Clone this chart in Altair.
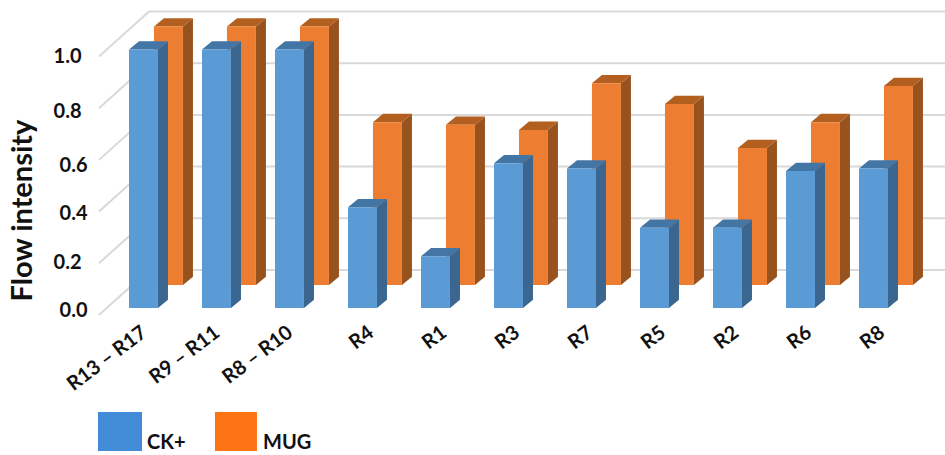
import json
import altair as alt
import pandas as pd

# Series values and labels
categories = ["R13 – R17", "R9 – R11", "R8 – R10", "R4", "R1", "R3", "R7", "R5", "R2", "R6", "R8"]
ck_plus = [1.0, 1.0, 1.0, 0.39, 0.20, 0.56, 0.54, 0.31, 0.31, 0.53, 0.54]
mug = [1.0, 1.0, 1.0, 0.63, 0.62, 0.60, 0.78, 0.70, 0.53, 0.63, 0.77]
y_ticks = [0.0, 0.2, 0.4, 0.6, 0.8, 1.0]

# Pseudo-3D geometry, in axis units (one x unit = one category slot)
X_DOMAIN = [-1.767, 11.178]
Y_DOMAIN = [-0.5687, 1.1915]
BAR_W = 0.397
SIDE_DX, SIDE_DY = 0.137, 0.032
BACK_DX, BACK_DY = 0.342, 0.089
FLOOR_X, FLOOR_Y = -0.411, -0.027
WALL_X, WALL_Y = 0.274, 0.147

x_scale = alt.Scale(domain=X_DOMAIN, nice=False, zero=False)
y_scale = alt.Scale(domain=Y_DOMAIN, nice=False, zero=False)
FONT = "Lato"
INK = "#111111"

# Axes carry only labels; each label gets its own small nudge
y_offset_cond = [
    {"test": "datum.value === 1", "value": 7},
    {"test": "abs(datum.value - 0.8) < 0.01", "value": 10.5},
    {"test": "abs(datum.value - 0.6) < 0.01", "value": 13},
    {"test": "abs(datum.value - 0.4) < 0.01", "value": 8.5},
    {"test": "abs(datum.value - 0.2) < 0.01", "value": 6.5},
]
y_padding_cond = [
    {"test": "datum.value === 1", "value": 6},
    {"test": "abs(datum.value - 0.8) < 0.01", "value": 6},
    {"test": "abs(datum.value - 0.2) < 0.01", "value": 6},
]
axis_y = alt.Axis(
    values=y_ticks, format=".1f", offset=-87, grid=False, domain=False, ticks=False,
    labelFont=FONT, labelFontSize=20, labelFontWeight="bold", labelColor=INK,
    labelOffset={"condition": y_offset_cond, "value": 3},
    labelPadding={"condition": y_padding_cond, "value": 0},
    labelOverlap=False, labelBound=False, labelFlush=False,
    title="Flow intensity", titleFont=FONT, titleFontSize=29, titleFontWeight="bold",
    titleColor=INK, titleX=-50, titleY=210, titleAlign="center",
)
label_expr = "[" + ",".join(json.dumps(c, ensure_ascii=False) for c in categories) + "][datum.value]"
axis_x = alt.Axis(
    values=list(range(len(categories))), labelExpr=label_expr, offset=-125, grid=False,
    domain=False, ticks=False, labelFont=FONT, labelFontSize=20, labelFontWeight="bold",
    labelColor=INK, labelAngle=-37, labelAlign="right", labelBaseline="middle",
    labelPadding=0, labelOffset={"condition": {"test": "datum.value < 3", "value": 15}, "value": 23},
    labelOverlap=False, labelBound=False, labelFlush=False, title=None,
)


def x_enc(field="x"):
    return alt.X(f"{field}:Q", scale=x_scale, axis=axis_x)


def y_enc(field="y"):
    return alt.Y(f"{field}:Q", scale=y_scale, axis=axis_y)


def box_faces(values, ox, oy):
    """Front, side and top faces of one row of boxes."""
    front, side, top = [], [], []
    for i, v in enumerate(values):
        x0, x1 = i + ox, i + ox + BAR_W
        front.append(dict(x=x0, x2=x1, y=oy, y2=oy + v))
        side.append(dict(id=i, x=x1, y=oy, y2=oy + v))
        side.append(dict(id=i, x=x1 + SIDE_DX, y=oy + SIDE_DY, y2=oy + v + SIDE_DY))
        top.append(dict(id=i, y=oy + v, x=x0, x2=x1))
        top.append(dict(id=i, y=oy + v + SIDE_DY, x=x0 + SIDE_DX, x2=x1 + SIDE_DX))
    return pd.DataFrame(front), pd.DataFrame(side), pd.DataFrame(top)


def box_layers(values, ox, oy, c_front, c_side, c_top):
    front, side, top = box_faces(values, ox, oy)
    return [
        alt.Chart(side).mark_area(orient="vertical", color=c_side).encode(
            x=x_enc(), y=y_enc(), y2="y2:Q", detail="id:N"),
        alt.Chart(top).mark_area(orient="horizontal", color=c_top).encode(
            y=y_enc(), x=x_enc(), x2="x2:Q", detail="id:N"),
        alt.Chart(front).mark_rect(color=c_front).encode(
            x=x_enc(), x2="x2:Q", y=y_enc(), y2="y2:Q"),
    ]


# Gridlines: a slanted run on the side wall, then a level run on the back wall
grid_back = pd.DataFrame([dict(x=WALL_X, x2=X_DOMAIN[1], y=t + WALL_Y) for t in y_ticks])
grid_side = pd.DataFrame(
    [dict(x=FLOOR_X, x2=WALL_X, y=t + FLOOR_Y, y2=t + WALL_Y) for t in y_ticks])
GRID = "#d9d9d9"
grid = [
    alt.Chart(grid_back).mark_rule(color=GRID, strokeWidth=2).encode(
        x=x_enc(), x2="x2:Q", y=y_enc()),
    alt.Chart(grid_side).mark_rule(color=GRID, strokeWidth=2).encode(
        x=x_enc(), x2="x2:Q", y=y_enc(), y2="y2:Q"),
]

# Legend swatches and names along the bottom edge
legend_names = ["CK+", "MUG"]
swatch_colors = ["#428bd6", "#fd7416"]
legend_rect = pd.DataFrame(dict(
    x=[-0.425, 1.178], x2=[0.178, 1.753], y=[-0.402, -0.402], y2=[-0.553, -0.553], name=legend_names))
legend_text = pd.DataFrame(dict(x=[0.247, 1.836], y=[-0.5455, -0.5455], name=legend_names))
swatches = alt.Chart(legend_rect).mark_rect().encode(
    x=x_enc(), x2="x2:Q", y=y_enc(), y2="y2:Q",
    color=alt.Color("name:N", scale=alt.Scale(domain=legend_names, range=swatch_colors), legend=None),
)
swatch_text = alt.Chart(legend_text).mark_text(
    align="left", baseline="alphabetic", font=FONT, fontSize=20, fontWeight="bold", color=INK
).encode(x=x_enc(), y=y_enc(), text="name:N")

chart = alt.layer(
    *grid,
    *box_layers(mug, BACK_DX, BACK_DY, "#ed7d31", "#98521e", "#b25f20"),
    *box_layers(ck_plus, 0, 0, "#5b9bd5", "#3a668f", "#4375a5"),
    swatches,
    swatch_text,
).properties(
    width=945, height=455, padding=0, background="white",
    autosize=alt.AutoSizeParams(type="none"),
).configure_view(stroke=None)

chart.save("out.html", embed_options={"renderer": "svg", "actions": False})
